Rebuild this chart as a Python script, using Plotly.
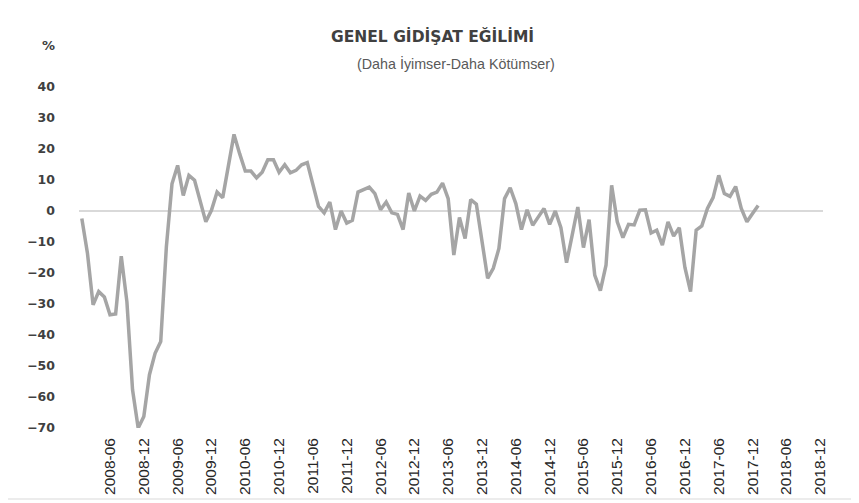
import plotly.graph_objects as go

# ---- data ----
values = [
    -2.4, -13.6, -30.3, -26.0, -27.7, -33.5, -33.2, -14.6, -29.3, -57.7,
    -70.0, -66.3, -52.8, -45.9, -42.1, -11.6, 8.8, 14.7, 5.0, 11.5,
    9.9, 3.4, -3.5, 0.2, 6.1, 4.3, 14.5, 24.7, 18.5, 12.9,
    12.9, 10.7, 12.5, 16.5, 16.5, 12.5, 14.9, 12.3, 13.1, 14.9,
    15.6, 8.8, 1.5, -0.6, 2.9, -6.0, 0.0, -3.9, -3.0, 6.1,
    6.9, 7.7, 5.6, 0.4, 2.9, -0.6, -1.1, -6.0, 5.8, 0.0,
    4.8, 3.4, 5.4, 6.1, 9.0, 4.0, -14.2, -2.1, -8.9, 3.7,
    2.2, -9.4, -21.7, -18.5, -12.1, 4.0, 7.5, 2.4, -6.0, 0.4,
    -4.6, -1.9, 0.8, -4.3, 0.0, -5.4, -16.7, -7.8, 1.3, -11.8,
    -2.8, -20.7, -25.7, -17.5, 8.3, -3.5, -8.6, -4.3, -4.5, 0.3,
    0.4, -7.1, -6.2, -11.0, -3.5, -8.1, -5.4, -18.2, -26.0, -6.2,
    -4.8, 0.8, 4.3, 11.5, 5.6, 4.7, 7.9, 0.8, -3.5, -0.8,
    1.8,
]
all_categories = [f"{y}-{m:02d}" for y in range(2008, 2019) for m in range(1, 13)]
dates = all_categories[:len(values)]
tick_labels = [f"{y}-{m:02d}" for y in range(2008, 2019) for m in (6, 12)]
y_ticks = list(range(-70, 50, 10))

title_text = "GENEL GİDİŞAT EĞİLİMİ"
subtitle_text = "(Daha İyimser-Daha Kötümser)"

# ---- layout geometry (page body has an 8px margin) ----
OFF = 8
W, H = 859 - OFF, 503 - OFF
ml, mr, mt, mb = 79 - OFF, 36, 87 - OFF, 75
pw, ph = W - ml - mr, H - mt - mb

def px(x):
    return (x - OFF - ml) / pw

def py(y):
    return (H - mb - (y - OFF)) / ph

fig = go.Figure()
fig.add_trace(go.Scatter(
    x=dates, y=values, mode="lines",
    line=dict(color="#A5A5A5", width=3.5),
    hoverinfo="x+y", showlegend=False,
))

fig.update_layout(
    width=W, height=H,
    margin=dict(l=ml, r=mr, t=mt, b=mb, autoexpand=False),
    paper_bgcolor="white", plot_bgcolor="white",
    xaxis=dict(
        type="category", categoryorder="array", categoryarray=all_categories,
        range=[-0.5, len(all_categories) - 0.5], automargin=False,
        tickmode="array", tickvals=tick_labels, ticktext=tick_labels,
        tickangle=-90, showgrid=False, showline=False, zeroline=False,
        ticks="", ticklabelstandoff=6,
        tickfont=dict(family="Liberation Sans, Arial", size=15.5, color="#262626"),
    ),
    yaxis=dict(
        range=[-70, 40], tickmode="array", tickvals=y_ticks, automargin=False,
        showgrid=False, showline=False, zeroline=True,
        zerolinecolor="#D9D9D9", zerolinewidth=1.5,
        ticks="", ticklabelstandoff=23,
        tickfont=dict(family="DejaVu Sans", size=12.5, color="#404040", weight="bold"),
    ),
    font=dict(family="DejaVu Sans", color="#404040"),
)

fig.add_annotation(
    text=f"<b>{title_text}</b>", xref="paper", yref="paper",
    x=px(432), y=py(37), xanchor="center", yanchor="middle", showarrow=False,
    font=dict(family="DejaVu Sans", size=15.5, color="#404040"),
)
fig.add_annotation(
    text=subtitle_text, xref="paper", yref="paper",
    x=px(456), y=py(63), xanchor="center", yanchor="middle", showarrow=False,
    font=dict(family="Liberation Sans, Arial", size=14.3, color="#595959"),
)
fig.add_annotation(
    text="<b>%</b>", xref="paper", yref="paper",
    x=px(48), y=py(45), xanchor="center", yanchor="middle", showarrow=False,
    font=dict(family="DejaVu Sans", size=13, color="#404040"),
)

fig.add_shape(
    type="rect", xref="paper", yref="paper",
    x0=px(4), x1=px(855), y0=py(499), y1=py(5),
    line=dict(color="#D9D9D9", width=1), layer="below",
)

fig.write_html("out.html")
